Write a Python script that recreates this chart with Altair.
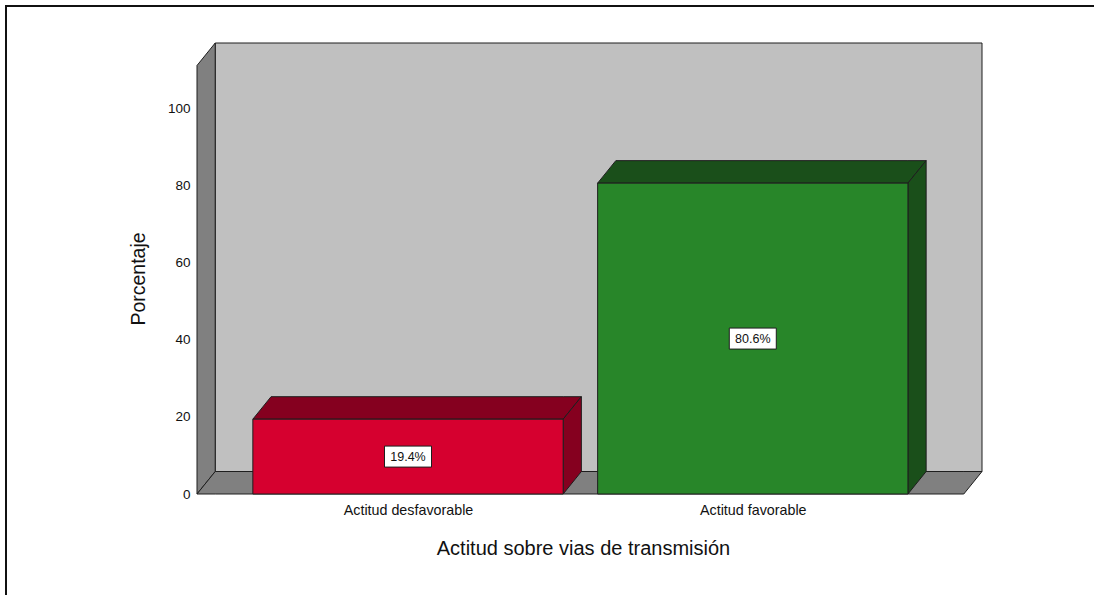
import json
import altair as alt
import pandas as pd

# ---------------- data ----------------
categories = ["Actitud desfavorable", "Actitud favorable"]
percentages = [19.4, 80.6]
value_labels = ["19.4%", "80.6%"]
front_colors = ["#d6002f", "#288629"]
dark_colors = ["#85001f", "#1a4f1a"]
y_tick_values = [0, 20, 40, 60, 80, 100]

x_title = "Actitud sobre vias de transmisión"
y_title = "Porcentaje"

# ---------------- 3D layout constants ----------------
BAR_W = 0.9          # bar width in category units
MARGIN = 0.162       # floor margin left/right of the bars
DX = 0.0528          # depth offset (x, category units)
DY = 5.83            # depth offset (y, percent units)
WALL_TOP = 111.1     # top of the front plane of the walls
n = len(categories)
FLOOR_LEN = 2 * MARGIN + n - (1 - BAR_W)
X_MAX = FLOOR_LEN + DX
Y_MAX = WALL_TOP + DY
TOTAL_W, TOTAL_H = 1094, 595
PAD_L, PAD_T = 197, 43
PLOT_W, PLOT_H = 785, 451
FONT = "Liberation Sans"
EDGE = "#1e1e1e"

centers = [MARGIN + BAR_W / 2 + i for i in range(n)]

xs = alt.Scale(domain=[0, X_MAX], nice=False, zero=False)
ys = alt.Scale(domain=[0, Y_MAX], nice=False, zero=False)

# ---------------- walls ----------------
back_wall = pd.DataFrame({"x": [DX], "x2": [FLOOR_LEN + DX], "y": [DY], "y2": [WALL_TOP + DY]})
wall_rows = []
for xv, yv, y2v in [(0, 0, WALL_TOP), (DX, DY, WALL_TOP + DY)]:
    wall_rows.append({"shape": "a_left", "x": xv, "y": yv, "y2": y2v, "fill": "#808080"})
for xv, yv, y2v in [(0, 0, 0), (DX, 0, DY), (FLOOR_LEN, 0, DY), (FLOOR_LEN + DX, DY, DY)]:
    wall_rows.append({"shape": "b_floor", "x": xv, "y": yv, "y2": y2v, "fill": "#808080"})
walls = pd.DataFrame(wall_rows)

# ---------------- bar top and side faces ----------------
face_rows = []
for i, (c, v) in enumerate(zip(centers, percentages)):
    x0, x1 = c - BAR_W / 2, c + BAR_W / 2
    for xv, yv, y2v in [(x0, v, v), (x0 + DX, v, v + DY), (x1, v, v + DY), (x1 + DX, v + DY, v + DY)]:
        face_rows.append({"shape": f"top{i}", "x": xv, "y": yv, "y2": y2v, "fill": dark_colors[i]})
    for xv, yv, y2v in [(x1, 0, v), (x1 + DX, DY, v + DY)]:
        face_rows.append({"shape": f"side{i}", "x": xv, "y": yv, "y2": y2v, "fill": dark_colors[i]})
faces = pd.DataFrame(face_rows)

fronts = pd.DataFrame({
    "cat": categories,
    "x0": [c - BAR_W / 2 for c in centers],
    "x1": [c + BAR_W / 2 for c in centers],
    "v": percentages,
    "mid": [v / 2 for v in percentages],
    "c": centers,
    "fill": front_colors,
    "label": value_labels,
})

label_expr = f"{json.dumps(categories)}[round(datum.value - {centers[0]})]"

# ---------------- layers ----------------
back = alt.Chart(back_wall).mark_rect(fill="#c0c0c0", stroke=EDGE, strokeWidth=1).encode(
    x=alt.X("x:Q", scale=xs), x2="x2:Q",
    y=alt.Y("y:Q", scale=ys), y2="y2:Q",
)

wall_layer = alt.Chart(walls).mark_area(stroke=EDGE, strokeWidth=1, orient="vertical").encode(
    x=alt.X("x:Q", scale=xs),
    y=alt.Y("y:Q", scale=ys), y2="y2:Q",
    color=alt.Color("fill:N", scale=None),
    detail="shape:N",
)

face_layer = alt.Chart(faces).mark_area(stroke=EDGE, strokeWidth=1, orient="vertical").encode(
    x=alt.X("x:Q", scale=xs),
    y=alt.Y("y:Q", scale=ys), y2="y2:Q",
    color=alt.Color("fill:N", scale=None),
    detail="shape:N",
)

front_layer = alt.Chart(fronts).mark_rect(stroke=EDGE, strokeWidth=1).encode(
    x=alt.X("x0:Q", scale=xs, axis=alt.Axis(
        values=centers, labelExpr=label_expr, title=x_title,
        grid=False, domain=False, ticks=False,
        labelFont=FONT, labelFontSize=14.3, labelColor="#111", labelPadding=9,
        titleFont=FONT, titleFontSize=20, titleFontWeight="normal", titleColor="#111",
        titleX=386, titleY=54, titleBaseline="middle", titleAlign="center",
    )),
    x2="x1:Q",
    y=alt.Y("v:Q", scale=ys, axis=alt.Axis(
        values=y_tick_values, title=y_title,
        grid=False, domain=False, ticks=False,
        labelFont=FONT, labelFontSize=13.5, labelColor="#111", labelPadding=7,
        titleFont=FONT, titleFontSize=19.5, titleFontWeight="normal", titleColor="#111",
        titleX=-59, titleY=235.5, titleBaseline="middle", titleAngle=270, titleAlign="center",
    )),
    y2=alt.Y2("zero:Q"),
    color=alt.Color("fill:N", scale=None),
).transform_calculate(zero="0")

box_layer = alt.Chart(fronts).mark_rect(width=47, height=21, fill="white", stroke=EDGE, strokeWidth=1).encode(
    x=alt.X("c:Q", scale=xs),
    y=alt.Y("mid:Q", scale=ys),
)

text_layer = alt.Chart(fronts).mark_text(font=FONT, fontSize=12.5, color="#111", align="center", baseline="middle").encode(
    x=alt.X("c:Q", scale=xs),
    y=alt.Y("mid:Q", scale=ys),
    text="label:N",
)

# outer frame: thin filled bands along the top and left edges
frame_df = pd.DataFrame({"k": [0]})
frame_top = alt.Chart(frame_df).mark_rect(fill="#111", strokeWidth=0).encode(
    x=alt.value(5 - PAD_L), x2=alt.value(TOTAL_W - PAD_L),
    y=alt.value(5 - PAD_T), y2=alt.value(7 - PAD_T),
)
frame_left = alt.Chart(frame_df).mark_rect(fill="#111", strokeWidth=0).encode(
    x=alt.value(5 - PAD_L), x2=alt.value(7 - PAD_L),
    y=alt.value(5 - PAD_T), y2=alt.value(TOTAL_H - PAD_T),
)

chart = alt.layer(back, wall_layer, face_layer, front_layer, box_layer, text_layer, frame_top, frame_left).properties(
    width=PLOT_W, height=PLOT_H,
    autosize=alt.AutoSizeParams(type="none"),
    padding={"left": PAD_L, "top": PAD_T, "right": TOTAL_W - PAD_L - PLOT_W, "bottom": TOTAL_H - PAD_T - PLOT_H},
    background="white",
).configure_view(strokeWidth=0).configure_axis(grid=False, domain=False, ticks=False)

chart.save("out.html", embed_options={"renderer": "svg", "actions": False})
